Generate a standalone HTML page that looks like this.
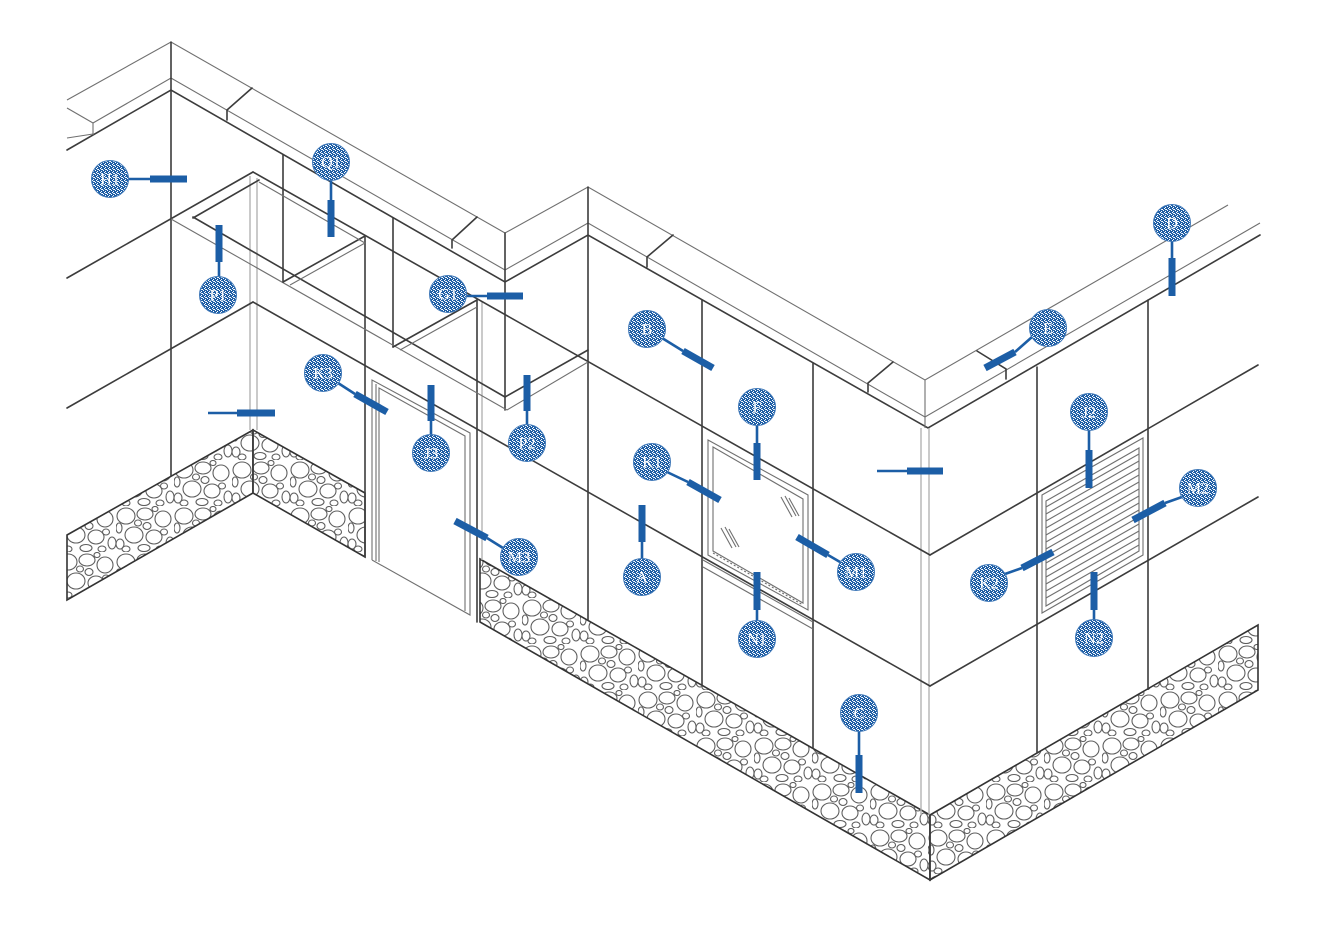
<!DOCTYPE html>
<html><head><meta charset="utf-8"><style>
html,body{margin:0;padding:0;background:#fff;}
svg{display:block;}
.k{stroke:#3c3c3c;stroke-width:1.6;fill:none;stroke-linecap:round;}
.t{stroke:#707070;stroke-width:1.1;fill:none;}
.g{stroke:#b4b4b4;stroke-width:1.4;fill:none;}
.p{stroke:#1c5ea6;stroke-width:2.6;fill:none;}
.b{stroke:#1c5ea6;stroke-width:7;fill:none;}
.c{fill:url(#dots);stroke:#3f78b8;stroke-width:1;}
.l{font-family:"Liberation Serif",serif;font-size:16px;fill:#fff;text-anchor:middle;dominant-baseline:central;}
.s{fill:url(#stone);stroke:#333;stroke-width:1.6;}
</style></head><body>
<svg width="1329" height="926" viewBox="0 0 1329 926" xmlns="http://www.w3.org/2000/svg">
<defs>
<pattern id="stone" patternUnits="userSpaceOnUse" width="58" height="46">
<rect width="58" height="46" fill="#fff"/>
<g fill="none" stroke="#5e5e5e" stroke-width="1.1">
<ellipse cx="10" cy="10" rx="9" ry="8"/>
<ellipse cx="29" cy="8" rx="8" ry="6"/>
<ellipse cx="47" cy="13" rx="8" ry="8"/>
<ellipse cx="18" cy="29" rx="9" ry="8"/>
<ellipse cx="38" cy="31" rx="8" ry="7"/>
<ellipse cx="4" cy="38" rx="4" ry="5"/>
<ellipse cx="54" cy="37" rx="4" ry="6"/>
<ellipse cx="28" cy="42" rx="6" ry="3.5"/>
<ellipse cx="3" cy="22" rx="3" ry="5"/>
<ellipse cx="22" cy="17" rx="3.5" ry="3"/>
<ellipse cx="31" cy="20" rx="4" ry="3.5"/>
<ellipse cx="48" cy="26" rx="3.5" ry="3"/>
<ellipse cx="10" cy="43" rx="4" ry="3"/>
<ellipse cx="44" cy="43" rx="4" ry="3"/>
<ellipse cx="39" cy="3" rx="3" ry="2.5"/>
</g>
</pattern>
<pattern id="dots" patternUnits="userSpaceOnUse" width="4" height="4">
<rect width="4" height="4" fill="#1f5fa6"/>
<rect x="0" y="0" width="1" height="1" fill="#fff"/>
<rect x="2" y="1" width="1" height="1" fill="#fff"/>
<rect x="1" y="3" width="1" height="1" fill="#fff"/>
<rect x="3" y="2" width="1" height="1" fill="#fff"/>
<rect x="1" y="1" width="1" height="1" fill="#dfe8f3"/>
</pattern>
</defs>

<!-- stone bands -->
<polygon class="s" points="67,535 253,430 253,493 67,600"/>
<polygon class="s" points="253,430 365,493 365,557 253,493"/>
<polygon class="s" points="480,559 930,815 930,880 480,622"/>
<polygon class="s" points="930,815 1258,625 1258,690 930,880"/>

<!-- coping -->
<polyline class="t" points="67,100 171,42 505,233 588,187 925,380 1228,205"/>
<polyline class="t" points="93,123 171,78 505,270 588,223 925,417 1260,223"/>
<polyline class="k" points="67,150 171,90 505,282 588,235 928,428 1260,235"/>
<line class="t" x1="67" y1="108" x2="93" y2="123"/>
<line class="t" x1="93" y1="123" x2="93" y2="135"/>
<line class="t" x1="67" y1="138" x2="93" y2="134"/>
<line class="t" x1="925" y1="380" x2="925" y2="428"/>
<!-- coping joints -->
<polyline class="k" points="252,88 227,110 227,120"/>
<polyline class="k" points="477,217 452,240 452,248"/>
<polyline class="k" points="673,235 647,257 647,267"/>
<polyline class="k" points="893,362 868,383 868,392"/>
<polyline class="k" points="977,351 1006,369 1006,379"/>

<!-- verticals -->
<line class="k" x1="171" y1="42" x2="171" y2="476"/>
<line class="k" x1="283" y1="155" x2="283" y2="282"/>
<line class="k" x1="365" y1="237" x2="365" y2="557"/>
<line class="k" x1="393" y1="218" x2="393" y2="347"/>
<line class="k" x1="505" y1="233" x2="505" y2="410"/>
<line class="k" x1="588" y1="187" x2="588" y2="620"/>
<line class="k" x1="702" y1="300" x2="702" y2="685"/>
<line class="k" x1="813" y1="363" x2="813" y2="748"/>
<line class="k" x1="1037" y1="367" x2="1037" y2="753"/>
<line class="k" x1="1148" y1="300" x2="1148" y2="689"/>
<line class="g" x1="250" y1="176" x2="250" y2="430"/>
<line class="g" x1="257" y1="178" x2="257" y2="430"/>
<line class="k" x1="477" y1="300" x2="477" y2="622"/>
<line class="g" x1="482" y1="302" x2="482" y2="560"/>
<line class="g" x1="921" y1="428" x2="921" y2="815"/>
<line class="g" x1="929" y1="428" x2="929" y2="815"/>
<line class="k" x1="930" y1="815" x2="930" y2="880"/>
<line class="k" x1="253" y1="430" x2="253" y2="493"/>

<!-- level lines -->
<line class="k" x1="67" y1="278" x2="253" y2="172"/>
<line class="k" x1="253" y1="172" x2="930" y2="555"/>
<line class="k" x1="930" y1="555" x2="1258" y2="365"/>
<line class="k" x1="67" y1="408" x2="253" y2="302"/>
<line class="k" x1="253" y1="302" x2="930" y2="686"/>
<line class="k" x1="930" y1="686" x2="1258" y2="497"/>

<!-- canopy / overhang -->
<line class="k" x1="193" y1="218" x2="259" y2="180"/>
<line class="k" x1="193" y1="217" x2="505" y2="397"/>
<line class="t" x1="171" y1="219" x2="507" y2="410"/>
<line class="k" x1="505" y1="397" x2="588" y2="350"/>
<line class="t" x1="507" y1="410" x2="588" y2="362"/>
<line class="k" x1="283" y1="282" x2="365" y2="236"/>
<line class="t" x1="290" y1="285" x2="365" y2="243"/>
<line class="k" x1="393" y1="347" x2="477" y2="300"/>
<line class="t" x1="400" y1="350" x2="477" y2="307"/>
<line class="t" x1="259" y1="182" x2="365" y2="243"/>

<!-- door -->
<g class="t">
<polyline points="372,560 372,380 470,433 470,615 372,560"/>
<polyline points="379,562 379,388 465,436 465,611"/>
<line x1="376" y1="384" x2="376" y2="561"/>
</g>

<!-- window -->
<g class="t">
<polygon points="708,440 808,495 808,610 708,555"/>
<polygon points="713,447 803,499 803,603 713,551"/>
<line x1="703" y1="560" x2="813" y2="622"/>
<line x1="703" y1="567" x2="813" y2="629"/>
<line x1="713" y1="553" x2="803" y2="605" stroke-dasharray="2 2"/>
<line x1="781" y1="497" x2="792" y2="517"/>
<line x1="785" y1="496" x2="796" y2="516"/>
<line x1="789" y1="498" x2="799" y2="516"/>
<line x1="721" y1="528" x2="732" y2="548"/>
<line x1="725" y1="527" x2="736" y2="547"/>
<line x1="729" y1="529" x2="739" y2="547"/>
</g>

<!-- vent -->
<g class="t">
<polygon points="1042,495 1143,438 1143,555 1042,613"/>
<polygon points="1046,501 1139,448 1139,551 1046,606"/>
<line x1="1046" y1="507" x2="1139" y2="454"/>
<line x1="1046" y1="514" x2="1139" y2="461"/>
<line x1="1046" y1="521" x2="1139" y2="468"/>
<line x1="1046" y1="528" x2="1139" y2="475"/>
<line x1="1046" y1="535" x2="1139" y2="482"/>
<line x1="1046" y1="542" x2="1139" y2="489"/>
<line x1="1046" y1="549" x2="1139" y2="496"/>
<line x1="1046" y1="556" x2="1139" y2="503"/>
<line x1="1046" y1="563" x2="1139" y2="510"/>
<line x1="1046" y1="570" x2="1139" y2="517"/>
<line x1="1046" y1="577" x2="1139" y2="524"/>
<line x1="1046" y1="584" x2="1139" y2="531"/>
<line x1="1046" y1="591" x2="1139" y2="538"/>
<line x1="1046" y1="598" x2="1139" y2="545"/>
</g>

<!-- pointers -->
<g>
<line class="p" x1="128" y1="179" x2="150" y2="179"/><line class="b" x1="150" y1="179" x2="187" y2="179"/>
<line class="p" x1="331" y1="180" x2="331" y2="200"/><line class="b" x1="331" y1="200" x2="331" y2="237"/>
<line class="p" x1="219" y1="262" x2="219" y2="277"/><line class="b" x1="219" y1="225" x2="219" y2="262"/>
<line class="p" x1="466" y1="296" x2="487" y2="296"/><line class="b" x1="487" y1="296" x2="523" y2="296"/>
<line class="p" x1="338" y1="383" x2="355" y2="394"/><line class="b" x1="355" y1="394" x2="387" y2="412"/>
<line class="p" x1="431" y1="421" x2="431" y2="435"/><line class="b" x1="431" y1="385" x2="431" y2="421"/>
<line class="p" x1="527" y1="411" x2="527" y2="425"/><line class="b" x1="527" y1="375" x2="527" y2="411"/>
<line class="b" x1="455" y1="521" x2="487" y2="538"/><line class="p" x1="487" y1="538" x2="503" y2="548"/>
<line class="p" x1="662" y1="338" x2="683" y2="351"/><line class="b" x1="683" y1="351" x2="713" y2="368"/>
<line class="p" x1="757" y1="425" x2="757" y2="443"/><line class="b" x1="757" y1="443" x2="757" y2="480"/>
<line class="p" x1="667" y1="472" x2="688" y2="482"/><line class="b" x1="688" y1="482" x2="720" y2="500"/>
<line class="b" x1="642" y1="505" x2="642" y2="542"/><line class="p" x1="642" y1="542" x2="642" y2="559"/>
<line class="b" x1="797" y1="537" x2="828" y2="555"/><line class="p" x1="828" y1="555" x2="840" y2="562"/>
<line class="b" x1="757" y1="572" x2="757" y2="610"/><line class="p" x1="757" y1="610" x2="757" y2="621"/>
<line class="p" x1="859" y1="731" x2="859" y2="755"/><line class="b" x1="859" y1="755" x2="859" y2="793"/>
<line class="p" x1="1172" y1="241" x2="1172" y2="258"/><line class="b" x1="1172" y1="258" x2="1172" y2="296"/>
<line class="p" x1="1032" y1="337" x2="1015" y2="352"/><line class="b" x1="1015" y1="352" x2="985" y2="368"/>
<line class="p" x1="1089" y1="430" x2="1089" y2="450"/><line class="b" x1="1089" y1="450" x2="1089" y2="488"/>
<line class="p" x1="1182" y1="497" x2="1165" y2="503"/><line class="b" x1="1165" y1="503" x2="1133" y2="520"/>
<line class="p" x1="1005" y1="574" x2="1022" y2="568"/><line class="b" x1="1022" y1="568" x2="1053" y2="552"/>
<line class="b" x1="1094" y1="572" x2="1094" y2="610"/><line class="p" x1="1094" y1="610" x2="1094" y2="620"/>
<line class="p" x1="208" y1="413" x2="237" y2="413"/><line class="b" x1="237" y1="413" x2="275" y2="413"/>
<line class="p" x1="877" y1="471" x2="907" y2="471"/><line class="b" x1="907" y1="471" x2="943" y2="471"/>
</g>

<!-- label circles -->
<g>
<circle class="c" cx="110" cy="179" r="18.5"/><text class="l" x="110" y="180">H1</text>
<circle class="c" cx="331" cy="162" r="18.5"/><text class="l" x="331" y="163">Q1</text>
<circle class="c" cx="218" cy="295" r="18.5"/><text class="l" x="218" y="296">P1</text>
<circle class="c" cx="448" cy="294" r="18.5"/><text class="l" x="448" y="295">G1</text>
<circle class="c" cx="323" cy="373" r="18.5"/><text class="l" x="323" y="374">K3</text>
<circle class="c" cx="431" cy="453" r="18.5"/><text class="l" x="431" y="454">J3</text>
<circle class="c" cx="527" cy="443" r="18.5"/><text class="l" x="527" y="444">P2</text>
<circle class="c" cx="519" cy="557" r="18.5"/><text class="l" x="519" y="558">M3</text>
<circle class="c" cx="647" cy="329" r="18.5"/><text class="l" x="647" y="330">B</text>
<circle class="c" cx="757" cy="407" r="18.5"/><text class="l" x="757" y="408">F</text>
<circle class="c" cx="652" cy="462" r="18.5"/><text class="l" x="652" y="463">K1</text>
<circle class="c" cx="642" cy="577" r="18.5"/><text class="l" x="642" y="578">A</text>
<circle class="c" cx="856" cy="572" r="18.5"/><text class="l" x="856" y="573">M1</text>
<circle class="c" cx="757" cy="639" r="18.5"/><text class="l" x="757" y="640">N1</text>
<circle class="c" cx="859" cy="713" r="18.5"/><text class="l" x="859" y="714">C</text>
<circle class="c" cx="1172" cy="223" r="18.5"/><text class="l" x="1172" y="224">D</text>
<circle class="c" cx="1048" cy="328" r="18.5"/><text class="l" x="1048" y="329">E</text>
<circle class="c" cx="1089" cy="412" r="18.5"/><text class="l" x="1089" y="413">J2</text>
<circle class="c" cx="1198" cy="488" r="18.5"/><text class="l" x="1198" y="489">M2</text>
<circle class="c" cx="989" cy="583" r="18.5"/><text class="l" x="989" y="584">K2</text>
<circle class="c" cx="1094" cy="638" r="18.5"/><text class="l" x="1094" y="639">N2</text>
</g>
</svg>
</body></html>
